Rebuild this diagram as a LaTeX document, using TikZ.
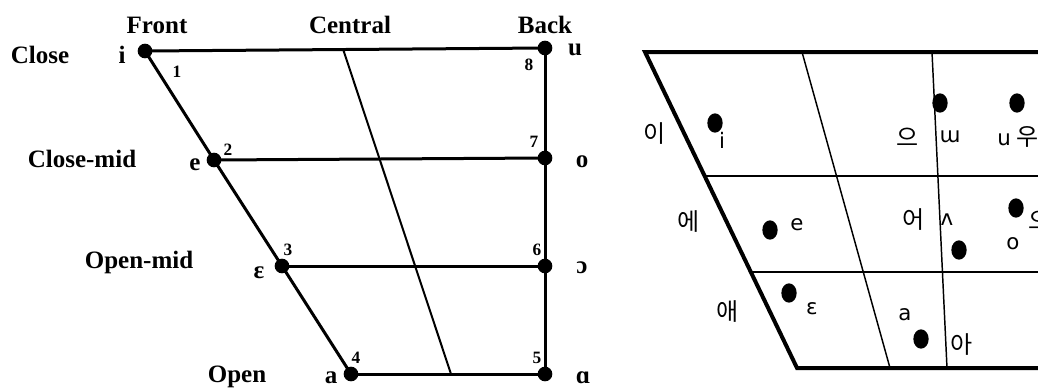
\documentclass[tikz,border=0pt]{standalone}
\usepackage{fontspec}
\setmainfont{Liberation Serif}
\newfontfamily\korfont{Noto Sans CJK KR}
\newfontfamily\ipafont{DejaVu Sans}
\usetikzlibrary{shapes.geometric}

\begin{document}
\begin{tikzpicture}[x=0.75pt, y=-0.75pt,
    axislabel/.style={font=\bfseries\fontsize{18.75}{20}\selectfont, inner sep=0pt, anchor=base},
    numlabel/.style={font=\bfseries\fontsize{13}{14}\selectfont, inner sep=0pt, anchor=base},
    vdot/.style={circle, fill=black, inner sep=0pt, minimum size=11pt},
    kdot/.style={ellipse, fill=black, inner sep=0pt, minimum width=11.5pt, minimum height=14.5pt},
    korlabel/.style={font=\korfont\fontsize{18}{18}\selectfont, inner sep=0pt},
    ipalabel/.style={font=\ipafont\fontsize{16}{16}\selectfont, inner sep=0pt}]
    \useasboundingbox (0,0) rectangle (1038,387);
    \clip (0,0) rectangle (1038,387);

    % cardinal vowel chart
    \coordinate (c1) at (343,49);
    \coordinate (c2) at (451,374);
    \node[vdot] (vi) at (145,51) {};
    \node[vdot] (ve) at (214,160) {};
    \node[vdot] (veps) at (282,266) {};
    \node[vdot] (va) at (351,374) {};
    \node[vdot] (vu) at (545,48) {};
    \node[vdot] (vo) at (545,158) {};
    \node[vdot] (vopeno) at (545,266) {};
    \node[vdot] (valpha) at (545,374) {};
    \draw[line width=2.25pt] (vi.center) -- (ve.center) -- (veps.center) -- (va.center);
    \draw[line width=2.25pt] (vu.center) -- (vo.center) -- (vopeno.center) -- (valpha.center);
    \draw[line width=2.25pt] (vi.center) -- (vu.center);
    \draw[line width=2.25pt] (ve.center) -- (vo.center);
    \draw[line width=2.25pt] (veps.center) -- (vopeno.center);
    \draw[line width=2.25pt] (va.center) -- (valpha.center);
    \draw[line width=1.5pt] (c1) -- (c2);

    \node[axislabel] (front) at (157,33) {Front};
    \node[axislabel] (central) at (350,33) {Central};
    \node[axislabel] (back) at (545,33) {Back};
    \node[axislabel] (close) at (40,63) {Close};
    \node[axislabel] (closemid) at (82,167) {Close-mid};
    \node[axislabel] (openmid) at (139,268) {Open-mid};
    \node[axislabel] (open) at (237,382) {Open};

    \node[axislabel] (li) at (122,63) {i};
    \node[axislabel] (le) at (195,170) {e};
    \node[axislabel] (leps) at (259,278) {ε};
    \node[axislabel] (la) at (331,383) {a};
    \node[axislabel] (lu) at (575,55) {u};
    \node[axislabel] (lo) at (582,167) {o};
    \node[axislabel] (lopeno) at (582,273) {ɔ};
    \node[axislabel] (lalpha) at (583,383) {ɑ};

    \node[numlabel] (n1) at (177,77) {1};
    \node[numlabel] (n2) at (228,155) {2};
    \node[numlabel] (n3) at (288,255) {3};
    \node[numlabel] (n4) at (356,363) {4};
    \node[numlabel] (n5) at (537,363) {5};
    \node[numlabel] (n6) at (537,255) {6};
    \node[numlabel] (n7) at (534,147) {7};
    \node[numlabel] (n8) at (529,70) {8};

    % korean vowel chart
    \coordinate (tl) at (645,52);
    \coordinate (tr) at (1045,52);
    \coordinate (bl) at (797,368);
    \coordinate (br) at (1045,368);
    \coordinate (m1) at (802,52);
    \coordinate (m2) at (890,368);
    \coordinate (b1) at (932,52);
    \coordinate (b2) at (947,368);
    \coordinate (h1) at (705,176);
    \coordinate (h1e) at (1045,176);
    \coordinate (h2) at (751,272);
    \coordinate (h2e) at (1045,272);
    \draw[line width=3pt] (tr) -- (tl) -- (bl) -- (br);
    \draw[line width=1.1pt] (m1) -- (m2);
    \draw[line width=1.1pt] (b1) -- (b2);
    \draw[line width=1.1pt] (h1) -- (h1e);
    \draw[line width=1.1pt] (h2) -- (h2e);

    \node[kdot] (ki) at (715,123) {};
    \node[kdot] (kw) at (940,103) {};
    \node[kdot] (ku) at (1017,103) {};
    \node[kdot] (ke) at (770,230) {};
    \node[kdot] (kv) at (959,250) {};
    \node[kdot] (ko) at (1016,208) {};
    \node[kdot] (keps) at (789,293) {};
    \node[kdot] (ka) at (921,339) {};

    \node[korlabel] (hi) at (655,134) {이};
    \node[korlabel] (he) at (689,222) {에};
    \node[korlabel] (hae) at (728,312) {애};
    \node[korlabel] (heu) at (908,137) {으};
    \node[korlabel] (heo) at (914,220) {어};
    \node[korlabel] (ha) at (962,345) {아};
    \node[korlabel] (hu) at (1028,137) {우};
    \node[korlabel] (ho) at (1040,220) {오};

    \node[ipalabel] (ti) at (722,140) {i};
    \node[ipalabel] (te) at (797,225) {e};
    \node[ipalabel] (teps) at (812,309) {ɛ};
    \node[ipalabel] (ta) at (905,315) {a};
    \node[ipalabel] (tw) at (950,137) {ɯ};
    \node[ipalabel] (tv) at (947,220) {ʌ};
    \node[ipalabel] (tu) at (1004,140) {u};
    \node[ipalabel] (to) at (1013,244) {o};
\end{tikzpicture}
\end{document}
